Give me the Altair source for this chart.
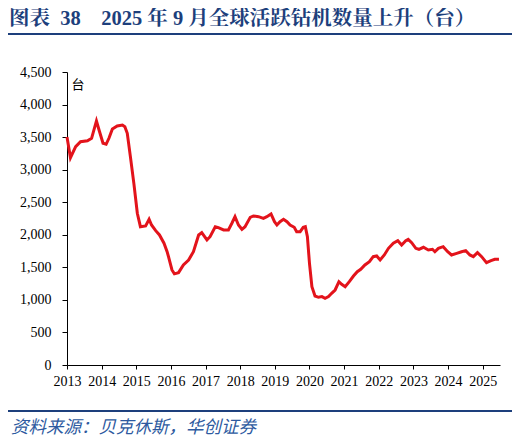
import altair as alt
import pandas as pd

# Decimal year and active rigs (台)
years = [2013.00, 2013.10, 2013.25, 2013.39, 2013.59, 2013.71, 2013.85, 2013.94,
         2014.04, 2014.13, 2014.21, 2014.31, 2014.45, 2014.60, 2014.67, 2014.74,
         2014.83, 2014.93, 2015.03, 2015.12, 2015.27, 2015.37, 2015.44, 2015.56,
         2015.67, 2015.80, 2015.89, 2015.93, 2016.03, 2016.10, 2016.22, 2016.36,
         2016.51, 2016.65, 2016.80, 2016.89, 2017.04, 2017.13, 2017.28, 2017.37,
         2017.52, 2017.66, 2017.76, 2017.85, 2017.95, 2018.05, 2018.14, 2018.29,
         2018.38, 2018.53, 2018.67, 2018.77, 2018.89, 2018.99, 2019.06, 2019.15,
         2019.25, 2019.35, 2019.44, 2019.56, 2019.63, 2019.73, 2019.82, 2019.88,
         2019.94, 2020.00, 2020.07, 2020.16, 2020.26, 2020.36, 2020.45, 2020.55,
         2020.64, 2020.74, 2020.85, 2020.93, 2021.03, 2021.15, 2021.27, 2021.38,
         2021.48, 2021.60, 2021.73, 2021.84, 2021.94, 2022.04, 2022.16, 2022.28,
         2022.42, 2022.55, 2022.66, 2022.78, 2022.85, 2022.95, 2023.07, 2023.16,
         2023.29, 2023.43, 2023.55, 2023.62, 2023.72, 2023.86, 2023.99, 2024.10,
         2024.25, 2024.39, 2024.51, 2024.63, 2024.73, 2024.85, 2024.97, 2025.11,
         2025.24, 2025.35, 2025.47]
rigs = [3500, 3184, 3353, 3430, 3445, 3482, 3748, 3583,
        3405, 3390, 3482, 3625, 3671, 3686, 3660, 3559,
        3200, 2790, 2330, 2124, 2135, 2238, 2150, 2063,
        1997, 1870, 1740, 1664, 1460, 1400, 1418, 1536,
        1613, 1740, 1997, 2032, 1920, 1971, 2124, 2109,
        2074, 2074, 2177, 2278, 2150, 2084, 2124, 2268,
        2289, 2278, 2253, 2278, 2319, 2201, 2150, 2201,
        2238, 2201, 2150, 2115, 2048, 2048, 2115, 2124,
        1971, 1562, 1203, 1060, 1040, 1050, 1025, 1050,
        1101, 1152, 1280, 1240, 1203, 1280, 1367, 1433,
        1470, 1536, 1587, 1664, 1674, 1613, 1690, 1792,
        1869, 1909, 1843, 1909, 1930, 1879, 1792, 1777,
        1808, 1766, 1777, 1740, 1792, 1817, 1740, 1690,
        1715, 1740, 1756, 1690, 1664, 1725, 1664, 1571,
        1602, 1623, 1623]
year_ticks = list(range(2013, 2026))
y_ticks = list(range(0, 4501, 500))

NB = "\u00a0"
title_text = "图表" + NB * 2 + "38" + NB * 4 + "2025" + NB + "年" + NB + "9" + NB + "月全球活跃钻机数量上升（台）"
source_text = "资料来源：贝克休斯，华创证券"
unit_text = "台"

SERIF = "Liberation Serif, Noto Serif CJK SC, Noto Sans CJK SC"
NAVY = "#1d3f7c"

df = pd.DataFrame({"year": years, "rigs": rigs})

line = alt.Chart(df).mark_line(color="#e3131b", strokeWidth=3).encode(
    x=alt.X("year:Q",
            scale=alt.Scale(domain=[2013, 2025.5], nice=False, zero=False),
            axis=alt.Axis(values=year_ticks, format="d", title=None, grid=False,
                          domainColor="black", tickColor="black", tickSize=4,
                          labelFont="Liberation Serif", labelFontSize=14,
                          labelColor="black", labelPadding=5, labelFlush=False)),
    y=alt.Y("rigs:Q",
            scale=alt.Scale(domain=[0, 4500], nice=False),
            axis=alt.Axis(values=y_ticks, format=",d", grid=False,
                          domainColor="black", tickColor="black", tickSize=5,
                          labelFont="Liberation Serif", labelFontSize=14,
                          labelColor="black", labelPadding=11,
                          title=unit_text, titleAngle=0, titleX=4, titleY=12,
                          titleAlign="left", titleBaseline="middle",
                          titleFont="Noto Sans CJK SC", titleFontSize=13,
                          titleFontWeight="normal", titleColor="black")),
)

title = alt.Chart(pd.DataFrame({"t": [title_text]})).mark_text(
    align="left", baseline="middle", font=SERIF, fontSize=20.5,
    fontWeight="bold", color=NAVY
).encode(x=alt.value(-58), y=alt.value(-53.5), text="t:N")

top_rule = alt.Chart(pd.DataFrame({"a": [0]})).mark_rule(
    color=NAVY, strokeWidth=2
).encode(x=alt.value(-59), x2=alt.value(448), y=alt.value(-38))

bottom_rule = alt.Chart(pd.DataFrame({"a": [0]})).mark_rule(
    color=NAVY, strokeWidth=2
).encode(x=alt.value(-59), x2=alt.value(448), y=alt.value(339))

source = alt.Chart(pd.DataFrame({"t": [source_text]})).mark_text(
    align="left", baseline="middle", font="Noto Sans CJK SC", fontSize=17.5,
    fontStyle="italic", color="#2d5aa0"
).encode(x=alt.value(-56), y=alt.value(356), text="t:N")

chart = alt.layer(line, title, top_rule, bottom_rule, source).properties(
    width=433, height=293,
    autosize=alt.AutoSizeParams(type="none"),
    padding={"left": 59, "top": 64, "right": 12, "bottom": 76},
).configure_view(stroke=None)

chart.save("out.html", embed_options={"renderer": "svg", "actions": False})
